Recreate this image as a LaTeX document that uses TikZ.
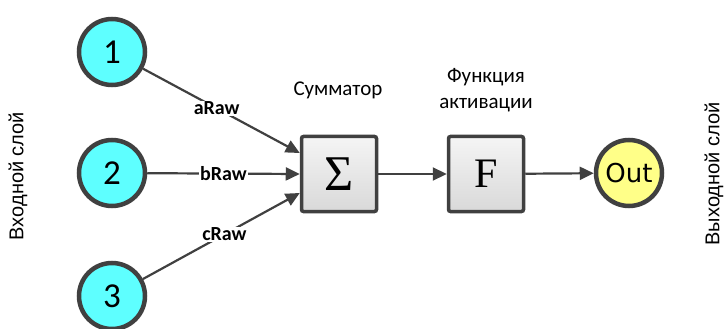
\documentclass[tikz,border=0pt]{standalone}
\usepackage{fontspec}
\setmainfont{Carlito}
\newfontfamily\sidefont{Liberation Sans}
\newfontfamily\outfont{DejaVu Sans}
\newfontfamily\symfont{Liberation Serif}
\usetikzlibrary{arrows.meta,shadings}
\definecolor{edge}{HTML}{404040}
\definecolor{incyan}{HTML}{5EFFFF}
\definecolor{outyel}{HTML}{FFFF88}
\tikzset{
  neuron/.style={circle, draw=edge, line width=4.5pt, fill=incyan,
    minimum size=66pt, inner sep=0pt, font=\fontsize{35}{35}\selectfont},
  outneuron/.style={neuron, fill=outyel, font=\outfont\fontsize{26}{26}\selectfont},
  block/.style={draw=edge, line width=3.5pt, rounded corners=2pt,
    top color=black!4, bottom color=black!15, minimum size=75pt, inner sep=0pt,
    font=\symfont},
  link/.style={draw=edge, line width=2.2pt,
    -{Triangle[length=14pt,width=13pt]}},
  wlabel/.style={fill=white, inner sep=1pt, font=\bfseries\fontsize{20}{20}\selectfont},
  title/.style={align=center, font=\fontsize{21}{26}\selectfont},
  side/.style={rotate=90, font=\sidefont\fontsize{20}{20}\selectfont}
}
\begin{document}
\begin{tikzpicture}[x=1pt, y=-1pt]
  \useasboundingbox (0,0) rectangle (724,329);

  % input layer
  \node[neuron] (n1) at (112,52) {1};
  \node[neuron] (n2) at (112,173) {2};
  \node[neuron] (n3) at (112,296) {3};

  % summation and activation blocks
  \node[block] (sum) at (339,174) {\fontsize{50}{50}\selectfont Σ};
  \node[block] (act) at (486,174) {\fontsize{42}{42}\selectfont F};

  % output neuron
  \node[outneuron] (out) at (629,173) {Out};

  % block titles
  \node[title] (tsum) at (338,90) {Сумматор};
  \node[title] (tact) at (486,90) {Функция\\активации};

  % layer captions
  \node[side] (lin) at (18,176) {Входной слой};
  \node[side] (lout) at (714,174) {Выходной слой};

  % weighted inputs
  \coordinate (a1) at ([yshift=21pt]sum.west);
  \coordinate (a3) at ([yshift=-19pt]sum.west);
  \draw[link] (n1) -- (a1) node[wlabel, pos=0.47] (la) {aRaw};
  \draw[link] (n2) -- (sum.west) node[wlabel, pos=0.5] (lb) {bRaw};
  \draw[link] (n3) -- (a3) node[wlabel, pos=0.52] (lc) {cRaw};

  % forward path
  \draw[link] (sum) -- (act);
  \draw[link] (act) -- (out);
\end{tikzpicture}
\end{document}
